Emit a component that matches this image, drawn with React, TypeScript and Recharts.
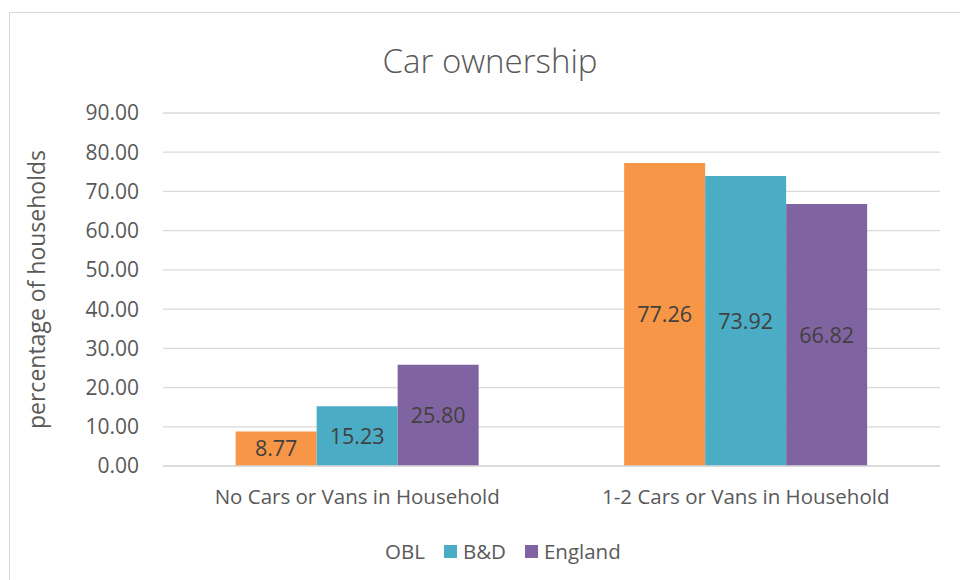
import React from "react";
import { BarChart, Bar, XAxis, YAxis, CartesianGrid, Legend, LabelList } from "recharts";

const categories = ["No Cars or Vans in Household", "1-2 Cars or Vans in Household"];
const oblValues = [8.77, 77.26];
const bdValues = [15.23, 73.92];
const englandValues = [25.8, 66.82];
const yTicks = [0, 10, 20, 30, 40, 50, 60, 70, 80, 90];

const seriesNames = ["OBL", "B&D", "England"];
const seriesColors = ["#F79646", "#4BACC6", "#8064A2"];

const data = categories.map((c, i) => ({
  name: c,
  OBL: oblValues[i],
  "B&D": bdValues[i],
  England: englandValues[i],
}));

const FONT = "'Open Sans', sans-serif";
const TEXT = "#595959";

const YLabel = (props: any) => {
  const vb = props.viewBox || {};
  const cy = vb.y + vb.height / 2;
  const x = 36;
  return (
    <text
      x={x}
      y={cy}
      transform={`rotate(-90, ${x}, ${cy})`}
      textAnchor="middle"
      dominantBaseline="central"
      fill={TEXT}
      fontSize={23}
      fontFamily={FONT}
    >
      percentage of households
    </text>
  );
};

const LegendContent = () => (
  <div style={{ display: "flex", alignItems: "center", fontFamily: FONT, fontSize: 20.5, color: TEXT }}>
    {seriesNames.map((n, i) => (
      <div key={n} style={{ display: "flex", alignItems: "center", marginRight: 19 }}>
        {i > 0 && (
          <span style={{ display: "inline-block", width: 13, height: 13, background: seriesColors[i], marginRight: 6 }} />
        )}
        <span>{n}</span>
      </div>
    ))}
  </div>
);

export default function App() {
  return (
    <div style={{ position: "absolute", left: 0, top: 0, width: 960, height: 580, overflow: "hidden", background: "#fff" }}>
      <div
        style={{
          position: "absolute",
          left: 9,
          top: 12,
          width: 980,
          height: 600,
          border: "1.5px solid #d9d9d9",
          boxSizing: "border-box",
        }}
      />
      <div style={{ position: "absolute", left: 0, top: 0 }}>
        <BarChart
          width={960}
          height={580}
          data={data}
          margin={{ top: 113, right: 20, bottom: 46, left: 0 }}
          barCategoryGap="18.7%"
          barGap={0}
        >
          <text
            x={490}
            y={60}
            textAnchor="middle"
            dominantBaseline="central"
            fill={TEXT}
            fontSize={33}
            fontWeight={300}
            fontFamily={FONT}
          >
            Car ownership
          </text>
          <CartesianGrid vertical={false} stroke="#d9d9d9" strokeWidth={1.3} />
          <XAxis
            dataKey="name"
            tickLine={false}
            axisLine={{ stroke: "#d9d9d9", strokeWidth: 1.3 }}
            tick={{ fill: TEXT, fontSize: 20.5, fontFamily: FONT }}
            tickMargin={17}
            height={40}
          />
          <YAxis
            width={163}
            domain={[0, 90]}
            ticks={yTicks}
            tickFormatter={(v: number) => v.toFixed(2)}
            axisLine={false}
            tickLine={false}
            tickMargin={18}
            tick={{ fill: TEXT, fontSize: 21, fontFamily: FONT }}
            label={<YLabel />}
          />
          <Legend
            content={<LegendContent />}
            wrapperStyle={{ position: "absolute", left: 385, top: 537, width: "auto", height: 28 }}
          />
          {seriesNames.map((n, i) => (
            <Bar key={n} dataKey={n} fill={seriesColors[i]} isAnimationActive={false}>
              <LabelList
                dataKey={n}
                position="center"
                formatter={(v: any) => Number(v).toFixed(2)}
                fill="#404040"
                fontSize={21.5}
                fontFamily={FONT}
              />
            </Bar>
          ))}
        </BarChart>
      </div>
    </div>
  );
}
